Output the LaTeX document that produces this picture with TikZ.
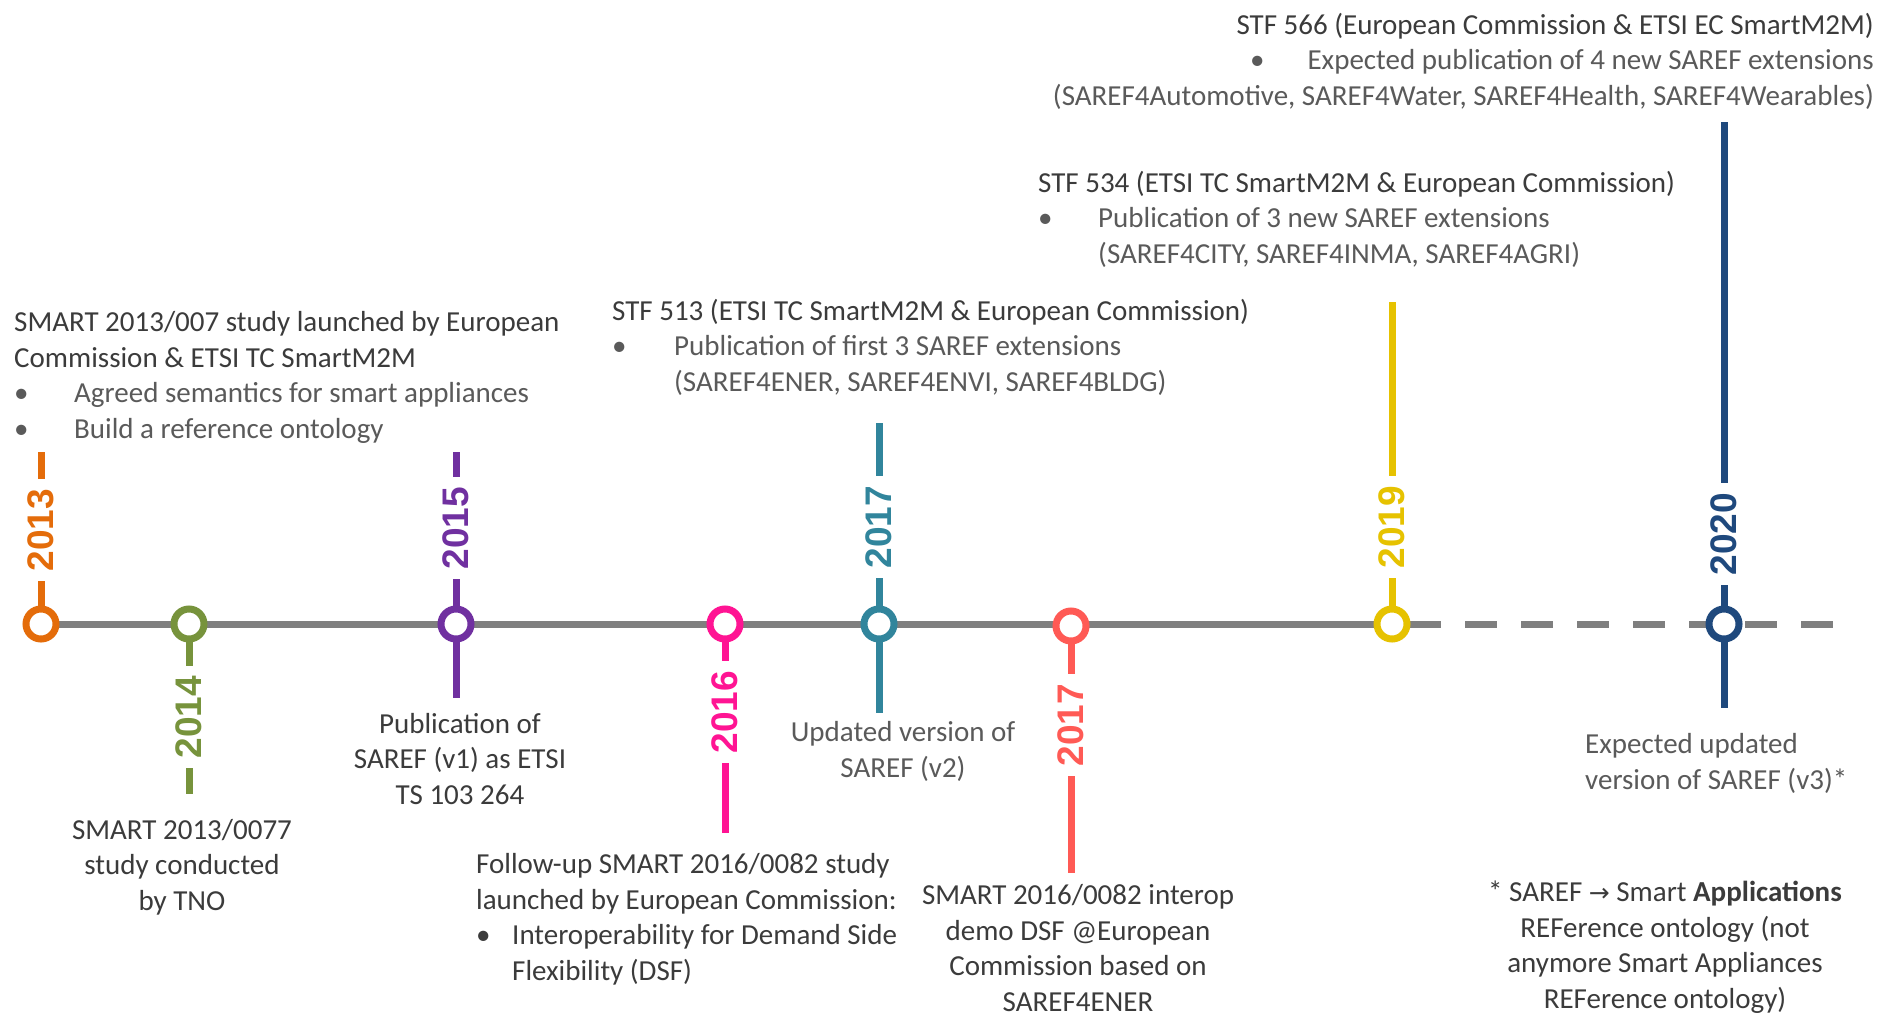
\documentclass[tikz,border=0pt]{standalone}
\usepackage{fontspec}
\setmainfont{Carlito}
\newfontfamily\yrfamily{Liberation Sans}
\newfontfamily\arrowfamily{DejaVu Sans}
\definecolor{cA}{HTML}{E46C0A}
\definecolor{cB}{HTML}{77933C}
\definecolor{cC}{HTML}{7030A0}
\definecolor{cD}{HTML}{FF1493}
\definecolor{cE}{HTML}{31859C}
\definecolor{cF}{HTML}{FF5A55}
\definecolor{cG}{HTML}{E6C200}
\definecolor{cH}{HTML}{1F497D}
\definecolor{lineg}{HTML}{7F7F7F}
\definecolor{dark}{HTML}{3B3B3B}
\definecolor{light}{HTML}{5A5A5A}
\newcommand{\txtfnt}{\fontsize{29}{35.4}\selectfont}
\newcommand{\yrfnt}{\yrfamily\bfseries\fontsize{37}{37}\selectfont}
\tikzset{
  tickline/.style={line width=7pt},
  mainline/.style={line width=7pt, draw=lineg},
  ring/.style={circle, draw, line width=7pt, fill=white, minimum size=30pt, inner sep=0pt},
  yearlbl/.style={rotate=90, fill=white, inner xsep=10pt, inner ysep=0pt, font=\yrfnt},
  txt/.style={font=\txtfnt, text=dark, inner sep=0pt},
}
\begin{document}
\begin{tikzpicture}[x=1pt,y=-1pt]
\useasboundingbox[fill=white] (0,0) rectangle (1879,1017);
% positions on the line
\coordinate (p13) at (41,624);
\coordinate (p14) at (189,624);
\coordinate (p15) at (456,624);
\coordinate (p16) at (725,624);
\coordinate (p17a) at (879,624);
\coordinate (p17b) at (1071,626);
\coordinate (p19) at (1392,624);
\coordinate (p20) at (1724,624);
\coordinate (solidend) at (1441,624);
\coordinate (dashstart) at (1465,624);
\coordinate (dashend) at (1834,624);
% tick ends
\coordinate (t13) at (41,452);
\coordinate (t14) at (189,794);
\coordinate (t15a) at (456,452);
\coordinate (t15b) at (456,698);
\coordinate (t16) at (725,833);
\coordinate (t17a) at (879,423);
\coordinate (t17ab) at (879,713);
\coordinate (t17b) at (1071,873);
\coordinate (t19) at (1392,302);
\coordinate (t20a) at (1724,122);
\coordinate (t20b) at (1724,708);
% main line
\draw[mainline] (p13) -- (solidend);
\draw[mainline, dash pattern=on 32pt off 24pt] (dashstart) -- (dashend);
% ticks
\draw[tickline, cA] (p13) -- (t13);
\draw[tickline, cB] (p14) -- (t14);
\draw[tickline, cC] (t15a) -- (t15b);
\draw[tickline, cD] (p16) -- (t16);
\draw[tickline, cE] (t17a) -- (t17ab);
\draw[tickline, cF] (p17b) -- (t17b);
\draw[tickline, cG] (p19) -- (t19);
\draw[tickline, cH] (t20a) -- (t20b);
% year labels
\node[yearlbl, text=cA] (y13) at (41,530) {2013};
\node[yearlbl, text=cB] (y14) at (189,717) {2014};
\node[yearlbl, text=cC] (y15) at (456,528) {2015};
\node[yearlbl, text=cD] (y16) at (725,712) {2016};
\node[yearlbl, text=cE] (y17a) at (879,527) {2017};
\node[yearlbl, text=cF] (y17b) at (1071,725) {2017};
\node[yearlbl, text=cG] (y19) at (1392,527) {2019};
\node[yearlbl, text=cH] (y20) at (1724,534) {2020};
% rings
\node[ring, draw=cA] (r13) at (p13) {};
\node[ring, draw=cB] (r14) at (p14) {};
\node[ring, draw=cC] (r15) at (p15) {};
\node[ring, draw=cD] (r16) at (p16) {};
\node[ring, draw=cE] (r17a) at (p17a) {};
\node[ring, draw=cF] (r17b) at (p17b) {};
\node[ring, draw=cG] (r19) at (p19) {};
\node[ring, draw=cH] (r20) at (p20) {};
% texts above (base anchor = baseline of last line)
\node[txt, anchor=base west, align=left] (tl) at (14,438) {SMART 2013/007 study launched by European\\Commission \& ETSI TC SmartM2M\\{\color{light}\makebox[60pt][l]{•}Agreed semantics for smart appliances}\\{\color{light}\makebox[60pt][l]{•}Build a reference ontology}};
\node[txt, anchor=base west, align=left] (stf513) at (612,391) {STF 513 (ETSI TC SmartM2M \& European Commission)\\{\color{light}\makebox[62pt][l]{•}Publication of first 3 SAREF extensions}\\{\color{light}\hspace*{62pt}(SAREF4ENER, SAREF4ENVI, SAREF4BLDG)}};
\node[txt, anchor=base west, align=left] (stf534) at (1038,263) {STF 534 (ETSI TC SmartM2M \& European Commission)\\{\color{light}\makebox[60pt][l]{•}Publication of 3 new SAREF extensions}\\{\color{light}\hspace*{60pt}(SAREF4CITY, SAREF4INMA, SAREF4AGRI)}};
\node[txt, anchor=base east, align=right] (stf566) at (1874,105) {STF 566 (European Commission \& ETSI EC SmartM2M)\\{\color{light}•\hspace{43pt}Expected publication of 4 new SAREF extensions}\\{\color{light}(SAREF4Automotive, SAREF4Water, SAREF4Health, SAREF4Wearables)}};
% texts below
\node[txt, anchor=base, align=center] (pub) at (460,804) {Publication of\\SAREF (v1) as ETSI\\TS 103 264};
\node[txt, anchor=base, align=center] (tno) at (182,910) {SMART 2013/0077\\study conducted\\by TNO};
\node[txt, anchor=base west, align=left] (follow) at (476,980) {Follow-up SMART 2016/0082 study\\launched by European Commission:\\\makebox[36pt][l]{•}Interoperability for Demand Side\\\hspace*{36pt}Flexibility (DSF)};
\node[txt, anchor=base, align=center, text=light] (upd) at (903,777) {Updated version of\\SAREF (v2)};
\node[txt, anchor=base, align=center] (interop) at (1078,1011) {SMART 2016/0082 interop\\demo DSF @European\\Commission based on\\SAREF4ENER};
\node[txt, anchor=base, align=center] (note) at (1665,1008) {* SAREF {\arrowfamily\fontsize{25}{25}\selectfont →} Smart \textbf{Applications}\\REFerence ontology (not\\anymore Smart Appliances\\REFerence ontology)};
\node[txt, anchor=base west, align=left, text=light] (expct) at (1585,789) {Expected updated\\version of SAREF (v3)*};
\end{tikzpicture}
\end{document}
